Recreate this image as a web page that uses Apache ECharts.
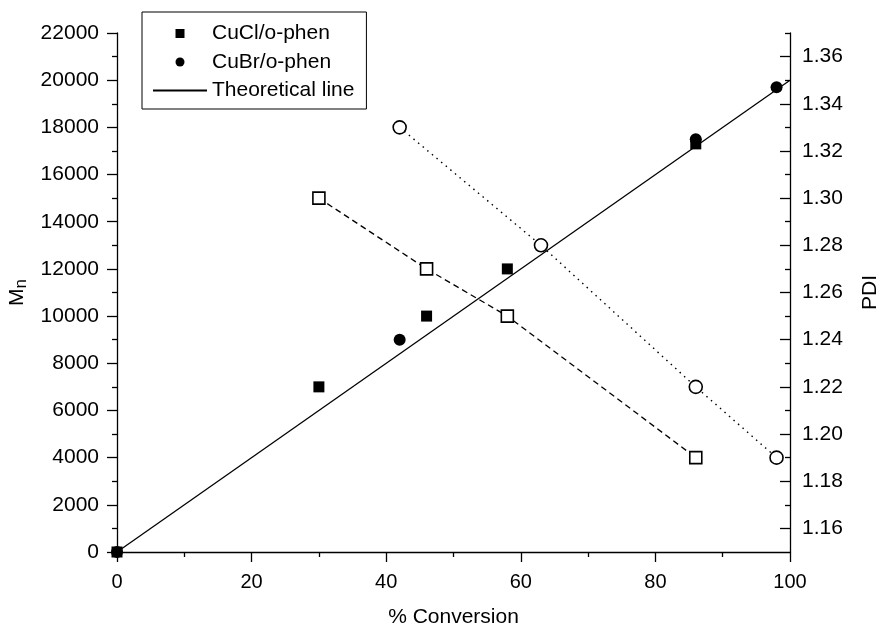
<!DOCTYPE html>
<html>
<head>
<meta charset="utf-8">
<script src="https://cdn.jsdelivr.net/npm/echarts@6/dist/echarts.min.js"></script>
<style>
  html, body { margin: 0; padding: 0; background: #fff; }
  #chart { width: 879px; height: 626px; }
</style>
</head>
<body>
<div id="chart"></div>
<script>
// Mn vs conversion
const clConv = [0, 30, 46, 58, 86]
const clMn = [0, 7000, 10000, 12000, 17300]
const brConv = [0, 42, 86, 98]
const brMn = [0, 9000, 17500, 19700]
const theoConv = [0, 100]
const theoMn = [0, 20000]

// PDI vs conversion (open symbols, right axis)
const clPdiConv = [30, 46, 58, 86]
const clPdi = [1.30, 1.27, 1.25, 1.19]
const brPdiConv = [42, 63, 86, 98]
const brPdi = [1.33, 1.28, 1.22, 1.19]

// right axis ticks
const pdiTicks = [1.16, 1.18, 1.20, 1.22, 1.24, 1.26, 1.28, 1.30, 1.32, 1.34, 1.36]
const pdiMinorTicks = [1.17, 1.19, 1.21, 1.23, 1.25, 1.27, 1.29, 1.31, 1.33, 1.35, 1.37]

const font = "'Liberation Sans', Arial, sans-serif"
const pair = (xs, ys) => xs.map((x, i) => [x, ys[i]])
const squarePath = 'path://M0,0 L10,0 L10,10 L0,10 Z'

const axisLine = { show: true, lineStyle: { color: '#000', width: 1.3 } }
const tickLine = { color: '#000', width: 1.3 }
const labelStyle = { color: '#000', fontSize: 20, fontFamily: font }
const bigStyle = { color: '#000', fontSize: 21, fontFamily: font }

const option = {
    animation: false,
    backgroundColor: '#fff',
    grid: { left: 117, right: 89, top: 33, bottom: 74, containLabel: false, outerBoundsMode: 'none' },
    legend: {
        orient: 'vertical',
        left: 142,
        top: 12,
        padding: [11, 12, 8, 10],
        itemGap: 7.5,
        itemWidth: 54,
        itemHeight: 9,
        symbolKeepAspect: true,
        borderColor: '#000',
        borderWidth: 1,
        borderRadius: 0,
        textStyle: bigStyle,
        data: [
            { name: 'CuCl/o-phen', icon: squarePath },
            { name: 'CuBr/o-phen', icon: 'circle' },
            { name: 'Theoretical line', itemStyle: { opacity: 0 } }
        ]
    },
    xAxis: {
        type: 'value',
        min: 0,
        max: 100,
        interval: 20,
        name: '% Conversion',
        nameLocation: 'middle',
        nameGap: 55,
        nameTextStyle: bigStyle,
        axisLine: axisLine,
        axisTick: { show: true, length: 10, lineStyle: tickLine },
        minorTick: { show: true, splitNumber: 2, length: 5, lineStyle: tickLine },
        axisLabel: Object.assign({ margin: 20 }, labelStyle),
        splitLine: { show: false }
    },
    yAxis: [
        {
            type: 'value',
            position: 'left',
            min: 0,
            max: 22000,
            interval: 2000,
            name: '{m|M}{n|n}',
            nameLocation: 'middle',
            nameRotate: 90,
            nameGap: 82,
            nameTextStyle: {
                color: '#000',
                fontFamily: font,
                rich: {
                    m: { fontSize: 21, fontFamily: font, color: '#000' },
                    n: { fontSize: 17, fontFamily: font, color: '#000', padding: [9, 0, 0, 0] }
                }
            },
            axisLine: axisLine,
            axisTick: { show: true, length: 10, lineStyle: tickLine },
            minorTick: { show: true, splitNumber: 2, length: 5, lineStyle: tickLine },
            axisLabel: Object.assign({ margin: 18, formatter: v => String(v) }, bigStyle),
            splitLine: { show: false }
        },
        {
            type: 'value',
            position: 'right',
            min: 1.15,
            max: 1.37,
            alignTicks: false,
            name: 'PDI',
            nameLocation: 'middle',
            nameRotate: 90,
            nameGap: 70,
            nameTextStyle: bigStyle,
            axisLine: axisLine,
            axisTick: { show: true, inside: true, length: 10, lineStyle: tickLine, customValues: pdiTicks },
            axisLabel: Object.assign({
                margin: 12,
                customValues: pdiTicks,
                formatter: v => v.toFixed(2)
            }, bigStyle),
            splitLine: { show: false }
        },
        {
            // minor ticks of the PDI axis
            type: 'value',
            position: 'right',
            min: 1.15,
            max: 1.37,
            alignTicks: false,
            axisLine: { show: false },
            axisTick: { show: true, inside: true, length: 5, lineStyle: tickLine, customValues: pdiMinorTicks },
            axisLabel: { show: false },
            splitLine: { show: false }
        }
    ],
    series: [
        {
            name: 'Theoretical line',
            type: 'line',
            data: pair(theoConv, theoMn),
            symbol: 'none',
            lineStyle: { color: '#000', width: 1.3 },
            itemStyle: { color: '#000' },
            z: 2
        },
        {
            name: 'PDI CuCl',
            type: 'line',
            yAxisIndex: 1,
            data: pair(clPdiConv, clPdi),
            symbol: 'rect',
            symbolSize: 12,
            showAllSymbol: true,
            lineStyle: { color: '#000', width: 1.3, type: [6, 4] },
            itemStyle: { color: '#fff', borderColor: '#000', borderWidth: 1.6 },
            z: 3
        },
        {
            name: 'PDI CuBr',
            type: 'line',
            yAxisIndex: 1,
            data: pair(brPdiConv, brPdi),
            symbol: 'circle',
            symbolSize: 13,
            showAllSymbol: true,
            lineStyle: { color: '#000', width: 1.4, type: [1.5, 4.5] },
            itemStyle: { color: '#fff', borderColor: '#000', borderWidth: 1.6 },
            z: 3
        },
        {
            name: 'CuBr/o-phen',
            type: 'scatter',
            data: pair(brConv, brMn),
            symbol: 'circle',
            symbolSize: 12,
            itemStyle: { color: '#000', opacity: 1 },
            z: 4
        },
        {
            name: 'CuCl/o-phen',
            type: 'scatter',
            data: pair(clConv, clMn),
            symbol: 'rect',
            symbolSize: 11,
            itemStyle: { color: '#000', opacity: 1 },
            z: 5
        }
    ]
}

let chart = echarts.init(document.getElementById('chart'))
chart.setOption(option)
window.onresize = () => {
    chart.resize()
}
</script>
</body>
</html>
